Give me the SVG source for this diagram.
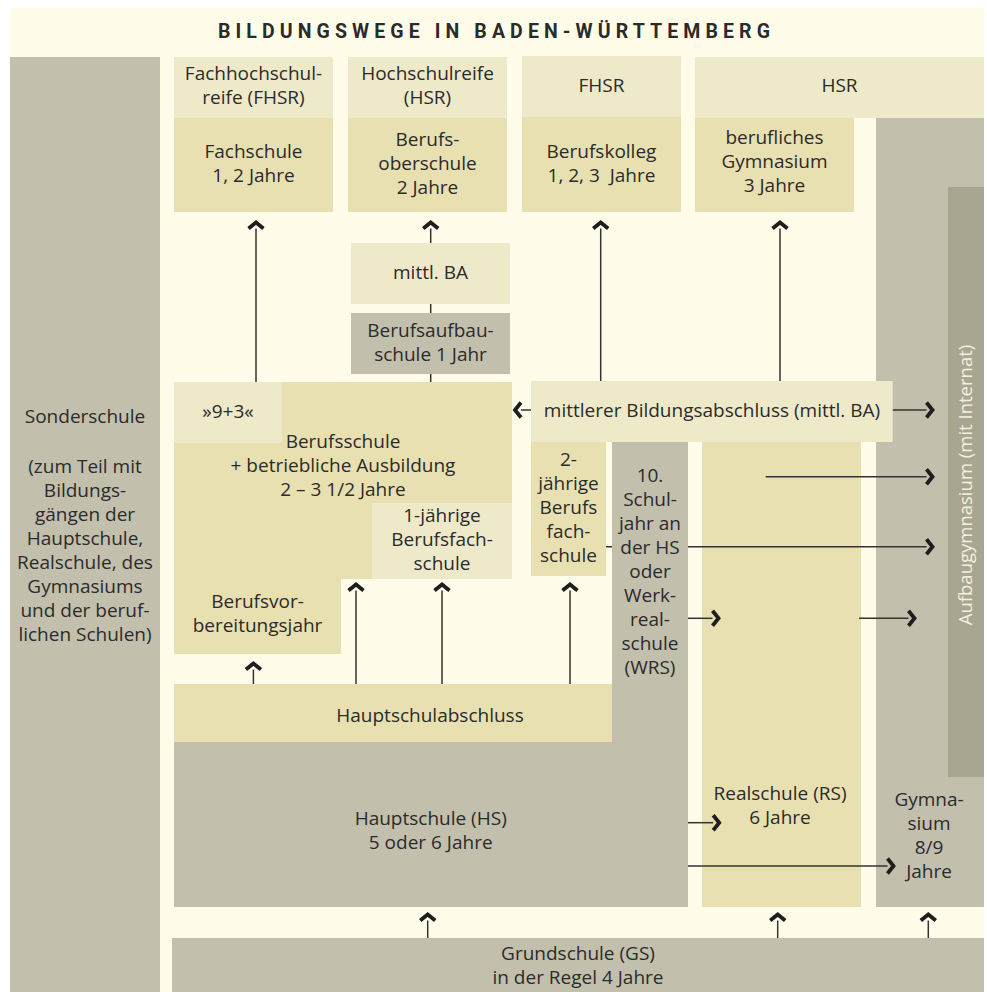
<svg xmlns="http://www.w3.org/2000/svg" width="987" height="992" viewBox="0 0 987 992">
<style>
.t{font-family:"Open Sans","Noto Sans","DejaVu Sans",sans-serif;font-size:19px;fill:#2b2b2b;text-anchor:middle}
.lt{fill:#EEE9C9}
.tan{fill:#E8E0B1}
.gr{fill:#C2BFAD}
.dg{fill:#A8A690}
.c{stroke:#333;stroke-width:1.5;fill:none}
.a{marker-end:url(#chev)}
</style>
<defs>
<marker id="chev" viewBox="-10 -10 20 20" markerWidth="20" markerHeight="20" markerUnits="userSpaceOnUse" refX="0" refY="0" orient="auto">
<path d="M0,-7.5 L6,0 L0,7.5" fill="none" stroke="#1e1e1e" stroke-width="3.8" stroke-linejoin="miter"/>
</marker>
</defs>
<rect width="987" height="992" fill="#FFFFFF"/>
<rect x="10" y="8" width="974" height="984" fill="#FFFDE9"/>
<text x="218" y="38" textLength="552" lengthAdjust="spacing" style="font-family:Roboto,'Noto Sans',sans-serif;font-size:19.5px;font-weight:bold;fill:#2b2b2b">BILDUNGSWEGE IN BADEN-WÜRTTEMBERG</text>

<g id="sonderschule">
<rect class="gr" x="10" y="57" width="150" height="935"/>
<text class="t"><tspan x="85" y="423">Sonderschule</tspan><tspan x="85" y="473">(zum Teil mit</tspan><tspan x="85" y="497">Bildungs-</tspan><tspan x="85" y="521">gängen der</tspan><tspan x="85" y="545">Hauptschule,</tspan><tspan x="85" y="569">Realschule, des</tspan><tspan x="85" y="593">Gymnasiums</tspan><tspan x="85" y="617">und der beruf-</tspan><tspan x="85" y="641">lichen Schulen)</tspan></text>
</g>

<g id="gymnasium">
<rect class="gr" x="876" y="118" width="108" height="789"/>
<text class="t"><tspan x="929" y="806">Gymna-</tspan><tspan x="929" y="830">sium</tspan><tspan x="929" y="854">8/9</tspan><tspan x="929" y="878">Jahre</tspan></text>
</g>
<g id="aufbaugymnasium">
<rect class="dg" x="948" y="187" width="36" height="590"/>
<text class="t" transform="translate(971.5,485) rotate(-90)" x="0" y="0" style="fill:#F3F0E2;font-size:18.5px">Aufbaugymnasium (mit Internat)</text>
</g>

<g id="fhsr1">
<rect class="lt" x="174" y="57" width="159" height="61"/>
<text class="t"><tspan x="253.5" y="80">Fachhochschul-</tspan><tspan x="253.5" y="104">reife (FHSR)</tspan></text>
</g>
<g id="fachschule">
<rect class="tan" x="174" y="118" width="159" height="94"/>
<text class="t"><tspan x="253.5" y="158">Fachschule</tspan><tspan x="253.5" y="182">1, 2 Jahre</tspan></text>
</g>
<g id="hsr1">
<rect class="lt" x="348" y="57" width="159" height="61"/>
<text class="t"><tspan x="427.5" y="80">Hochschulreife</tspan><tspan x="427.5" y="104">(HSR)</tspan></text>
</g>
<g id="berufsoberschule">
<rect class="tan" x="348" y="118" width="159" height="94"/>
<text class="t"><tspan x="427.5" y="146">Berufs-</tspan><tspan x="427.5" y="170">oberschule</tspan><tspan x="427.5" y="194">2 Jahre</tspan></text>
</g>
<g id="fhsr2">
<rect class="lt" x="522" y="56" width="159" height="61"/>
<text class="t" x="601.5" y="92">FHSR</text>
</g>
<g id="berufskolleg">
<rect class="tan" x="522" y="117" width="159" height="95"/>
<text class="t"><tspan x="601.5" y="158">Berufskolleg</tspan><tspan x="601.5" y="182" xml:space="preserve">1, 2, 3  Jahre</tspan></text>
</g>
<g id="hsr2">
<rect class="lt" x="695" y="57" width="289" height="61"/>
<text class="t" x="839.5" y="92">HSR</text>
</g>
<g id="berufliches-gymnasium">
<rect class="tan" x="695" y="118" width="159" height="94"/>
<text class="t"><tspan x="774.5" y="144">berufliches</tspan><tspan x="774.5" y="168">Gymnasium</tspan><tspan x="774.5" y="192">3 Jahre</tspan></text>
</g>

<g id="realschule">
<rect class="tan" x="702" y="442" width="159" height="465"/>
<text class="t"><tspan x="780" y="799.5">Realschule (RS)</tspan><tspan x="780" y="823.5">6 Jahre</tspan></text>
</g>

<g id="connectors">
<path class="c a" d="M256,382 V228.5"/>
<path class="c a" d="M430.7,382 V228.5"/>
<path class="c a" d="M600.7,381 V228.5"/>
<path class="c a" d="M780,381 V228.5"/>
<path class="c a" d="M253.4,684 V669.5"/>
<path class="c a" d="M356,684 V590.5"/>
<path class="c a" d="M442,684 V590.5"/>
<path class="c a" d="M570,684 V590.5"/>
<path class="c a" d="M427.7,938 V920.5"/>
<path class="c a" d="M777.7,938 V920.5"/>
<path class="c a" d="M928.3,938 V920.5"/>
<path class="c a" d="M531,410 H521"/>
<path class="c a" d="M892,410 H926.5"/>
<path class="c a" d="M765.7,476.7 H926.5"/>
<path class="c a" d="M606,546.7 H612 M688,546.7 H926.5"/>
<path class="c a" d="M688,618.3 H712.5"/>
<path class="c a" d="M859,618.3 H908.5"/>
<path class="c a" d="M688,822.7 H713.2"/>
<path class="c a" d="M644.7,866 H887.5"/>
</g>

<g id="mittl-ba-small">
<rect class="lt" x="351" y="243" width="159" height="61"/>
<text class="t" x="430.5" y="278.5">mittl. BA</text>
</g>
<g id="berufsaufbauschule">
<rect class="gr" x="351" y="313" width="159" height="61"/>
<text class="t"><tspan x="430.5" y="337">Berufsaufbau-</tspan><tspan x="430.5" y="361">schule 1 Jahr</tspan></text>
</g>

<g id="berufsschule">
<path class="tan" d="M174,382 H512 V579 H341 V654 H174 Z"/>
<rect class="lt" x="174" y="382" width="108" height="61"/>
<text class="t" x="228" y="417.5">»9+3«</text>
<text class="t"><tspan x="343" y="448">Berufsschule</tspan><tspan x="343" y="472">+ betriebliche Ausbildung</tspan><tspan x="343" y="496">2 – 3 1/2 Jahre</tspan></text>
</g>
<g id="berufsfachschule-1">
<rect class="lt" x="372" y="503" width="140" height="76"/>
<text class="t"><tspan x="442" y="522">1-jährige</tspan><tspan x="442" y="546">Berufsfach-</tspan><tspan x="442" y="570">schule</tspan></text>
</g>
<g id="berufsvorbereitungsjahr">
<text class="t"><tspan x="257.5" y="608">Berufsvor-</tspan><tspan x="257.5" y="632">bereitungsjahr</tspan></text>
</g>

<g id="mittlerer-ba">
<rect class="lt" x="531" y="381" width="361.7" height="61"/>
<text class="t" x="712" y="416.7">mittlerer Bildungsabschluss (mittl. BA)</text>
</g>
<g id="berufsfachschule-2">
<rect class="tan" x="531" y="442" width="75" height="134"/>
<text class="t"><tspan x="568.5" y="466">2-</tspan><tspan x="568.5" y="490">jährige</tspan><tspan x="568.5" y="514">Berufs</tspan><tspan x="568.5" y="538">fach-</tspan><tspan x="568.5" y="562">schule</tspan></text>
</g>

<g id="hauptschulabschluss">
<rect class="tan" x="174" y="684" width="438" height="58"/>
<text class="t" x="430" y="721.5">Hauptschulabschluss</text>
</g>
<g id="hauptschule">
<rect class="gr" x="174" y="742" width="514" height="165"/>
<rect class="gr" x="612" y="442" width="76" height="300"/>
<text class="t"><tspan x="430.7" y="825">Hauptschule (HS)</tspan><tspan x="430.7" y="849">5 oder 6 Jahre</tspan></text>
</g>
<g id="schuljahr-10">
<text class="t"><tspan x="650" y="482">10.</tspan><tspan x="650" y="506">Schul-</tspan><tspan x="650" y="530">jahr an</tspan><tspan x="650" y="554">der HS</tspan><tspan x="650" y="578">oder</tspan><tspan x="650" y="602">Werk-</tspan><tspan x="650" y="626">real-</tspan><tspan x="650" y="650">schule</tspan><tspan x="650" y="674">(WRS)</tspan></text>
</g>

<g id="grundschule">
<rect class="gr" x="172" y="938" width="812" height="54"/>
<text class="t"><tspan x="578" y="959.5">Grundschule (GS)</tspan><tspan x="578" y="983.5">in der Regel 4 Jahre</tspan></text>
</g>
</svg>
